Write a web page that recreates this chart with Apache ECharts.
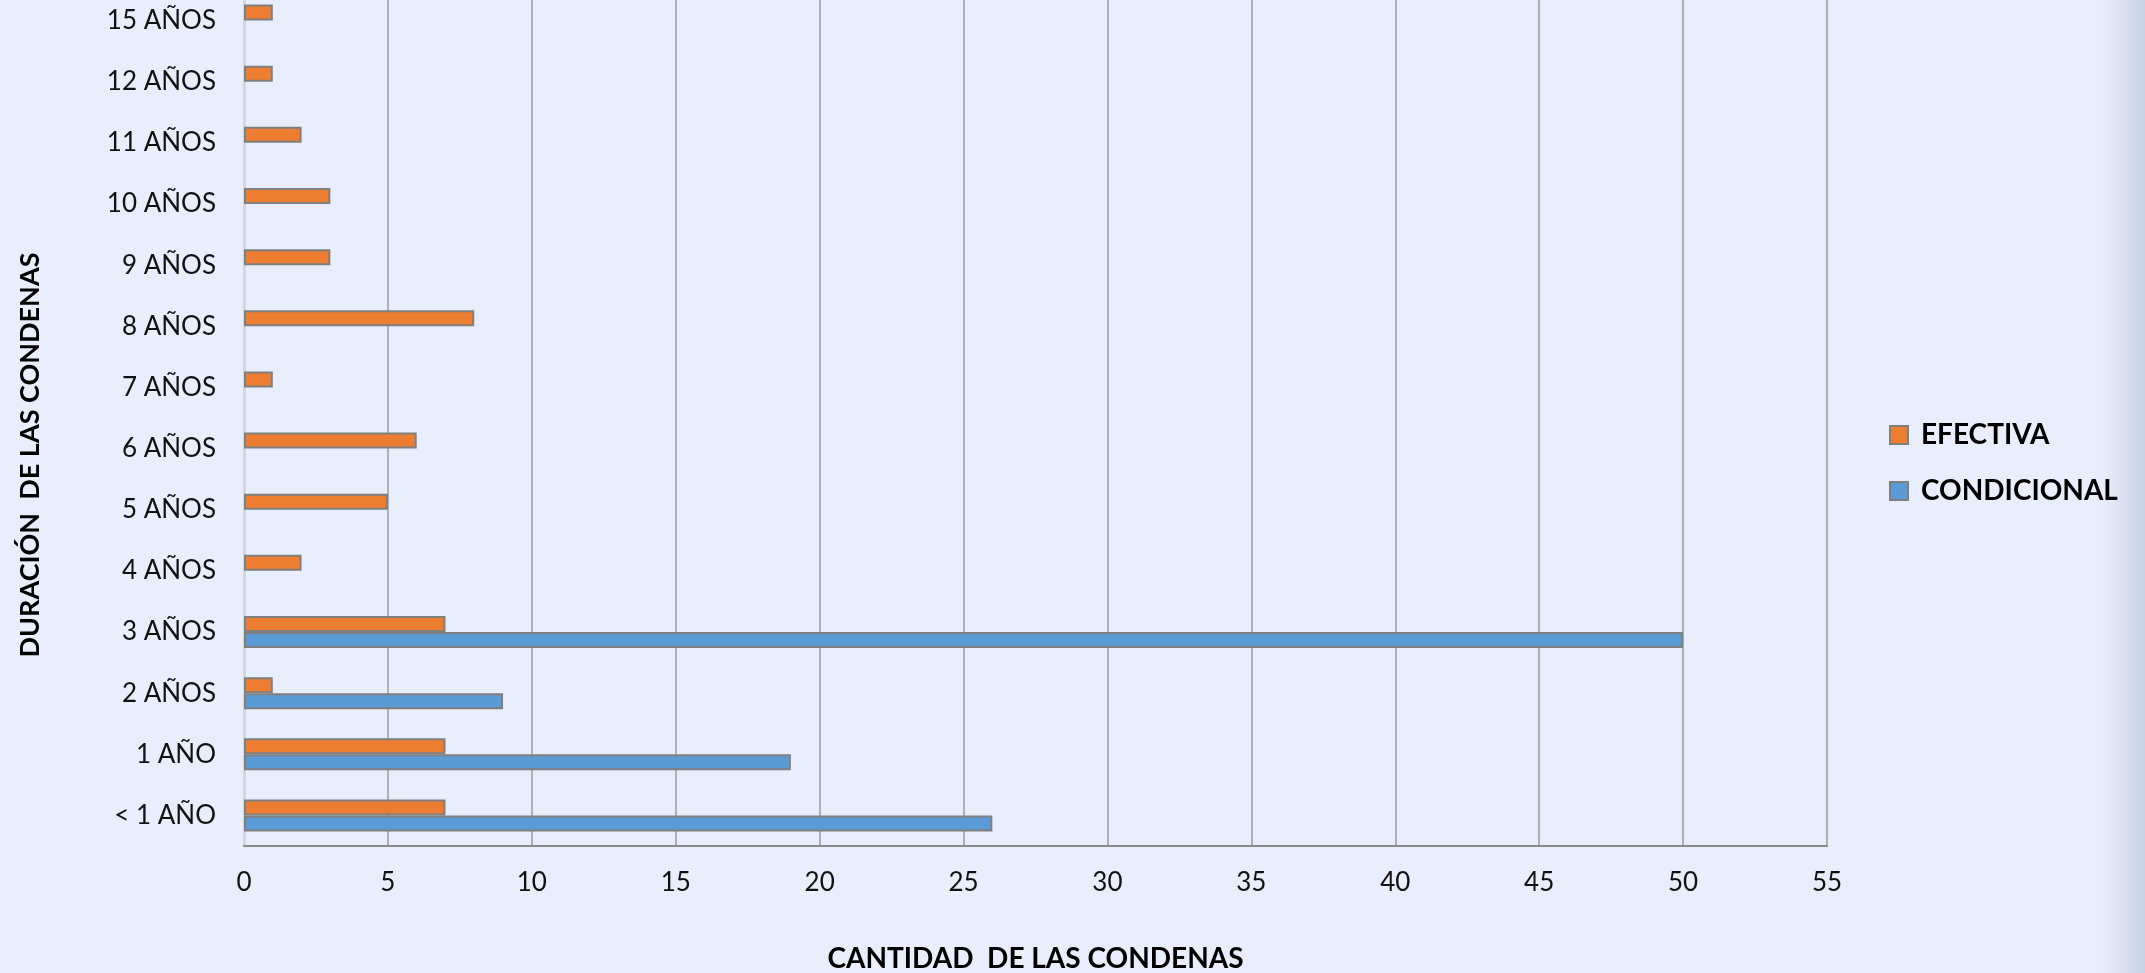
<!DOCTYPE html>
<html>
<head>
<meta charset="utf-8">
<script src="https://cdn.jsdelivr.net/npm/echarts@6/dist/echarts.min.js"></script>
<style>
  html, body { margin: 0; padding: 0; background: #e8eefc; }
  #chart { width: 2145px; height: 973px; }
</style>
</head>
<body>
<div id="chart"></div>
<script>
// categorias (de abajo hacia arriba)
var categorias = ['< 1 AÑO', '1 AÑO', '2 AÑOS', '3 AÑOS', '4 AÑOS', '5 AÑOS', '6 AÑOS',
  '7 AÑOS', '8 AÑOS', '9 AÑOS', '10 AÑOS', '11 AÑOS', '12 AÑOS', '15 AÑOS'];
var efectiva = [7, 7, 1, 7, 2, 5, 6, 1, 8, 3, 3, 2, 1, 1];
var condicional = [26, 19, 9, 50, null, null, null, null, null, null, null, null, null, null];
var ejeX = { min: 0, max: 55, interval: 5 };

var myChart = echarts.init(document.getElementById('chart'));

var fuente = 'Lato, "Open Sans", sans-serif';

var option = {
  backgroundColor: '#e8eefc',
  textStyle: { fontFamily: fuente },
  animation: false,
  grid: { left: 244, top: -10, width: 1583, height: 856, containLabel: false, outerBoundsMode: 'none' },
  legend: {
    orient: 'vertical',
    left: 1884,
    top: 416,
    itemWidth: 18,
    itemHeight: 18,
    itemGap: 28,
    icon: 'rect',
    data: ['EFECTIVA', 'CONDICIONAL'],
    textStyle: { fontSize: 28, fontWeight: 'bold', color: '#000', padding: [0, 0, 0, 8], fontFamily: fuente }
  },
  xAxis: {
    type: 'value',
    min: ejeX.min,
    max: ejeX.max,
    interval: ejeX.interval,
    name: 'CANTIDAD  DE LAS CONDENAS',
    nameLocation: 'middle',
    nameGap: 99,
    nameTextStyle: { fontSize: 28, fontWeight: 'bold', color: '#000', fontFamily: fuente },
    axisLine: { show: true, lineStyle: { color: '#8a8a8a', width: 2 } },
    axisTick: { show: false },
    axisLabel: { fontSize: 26, color: '#111', margin: 24, fontFamily: fuente },
    splitLine: { show: true, lineStyle: { color: '#b0b0b0', width: 2 } }
  },
  yAxis: {
    type: 'category',
    data: categorias,
    axisLine: { show: true, lineStyle: { color: '#d2d7e2', width: 3 } },
    axisTick: { show: false },
    axisLabel: { fontSize: 26, color: '#111', margin: 28, fontFamily: fuente },
    splitLine: { show: false }
  },
  series: [
    {
      name: 'EFECTIVA',
      type: 'bar',
      data: efectiva,
      barWidth: 16,
      barGap: '0%',
      itemStyle: { color: '#ed7d31', borderColor: '#7f7f7f', borderWidth: 2 }
    },
    {
      name: 'CONDICIONAL',
      type: 'bar',
      data: condicional,
      barWidth: 16,
      barGap: '0%',
      itemStyle: { color: '#5b9bd5', borderColor: '#7f7f7f', borderWidth: 2 }
    }
  ],
  graphic: [
    {
      type: 'rect',
      silent: true,
      z: -1,
      shape: { x: 2100, y: 0, width: 45, height: 973 },
      style: {
        fill: new echarts.graphic.LinearGradient(0, 0, 1, 0, [
          { offset: 0, color: 'rgba(208,216,232,0)' },
          { offset: 1, color: 'rgba(200,208,226,1)' }
        ])
      }
    },
    {
      // titulo del eje vertical
      type: 'text',
      x: 30,
      y: 455,
      rotation: Math.PI / 2,
      style: {
        text: 'DURACIÓN  DE LAS CONDENAS',
        font: 'bold 27px Lato, "Open Sans", sans-serif',
        fill: '#000',
        align: 'center',
        verticalAlign: 'middle'
      }
    }
  ]
};

myChart.setOption(option);
</script>
</body>
</html>
